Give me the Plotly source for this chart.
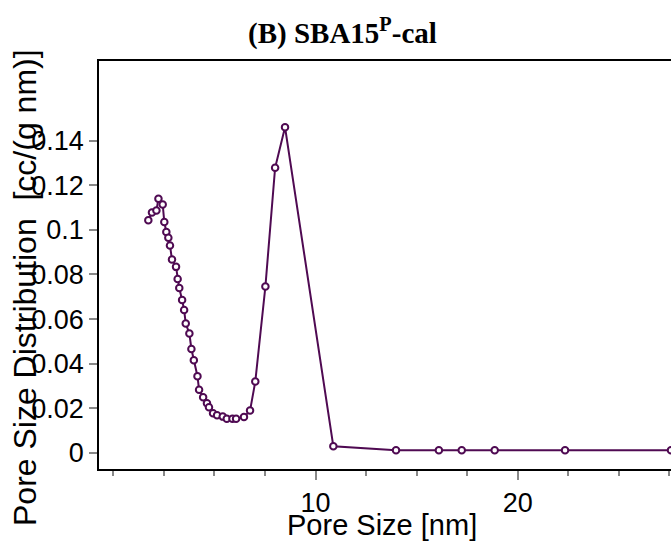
import plotly.graph_objects as go

# Pore size distribution (BJH) of calcined SBA15^P
pore_size_nm = [1.73, 1.91, 2.13, 2.23, 2.44, 2.52, 2.62, 2.72, 2.80, 2.90,
                3.10, 3.18, 3.26, 3.40, 3.50, 3.58, 3.76, 3.86, 3.98, 4.16,
                4.24, 4.44, 4.63, 4.73, 4.93, 5.13, 5.41, 5.61, 5.89, 6.07,
                6.46, 6.76, 7.02, 7.52, 8.00, 8.49, 10.88, 13.98, 16.10, 17.23,
                18.86, 22.34, 27.58]
psd = [0.1043, 0.1078, 0.1087, 0.1139, 0.1114, 0.1035, 0.0990, 0.0964, 0.0930, 0.0867,
       0.0834, 0.0780, 0.0739, 0.0686, 0.0641, 0.0580, 0.0535, 0.0466, 0.0416, 0.0344,
       0.0283, 0.0250, 0.0223, 0.0205, 0.0178, 0.0169, 0.0163, 0.0153, 0.0153, 0.0153,
       0.0161, 0.0190, 0.0320, 0.0746, 0.1278, 0.1460, 0.0030, 0.0012, 0.0012, 0.0012,
       0.0012, 0.0012, 0.0012]

y_ticks = [0, 0.02, 0.04, 0.06, 0.08, 0.1, 0.12, 0.14]
y_tick_text = ["0", "0.02", "0.04", "0.06", "0.08", "0.1", "0.12", "0.14"]
x_ticks = [10, 20]

PURPLE = "#4F0A52"
SANS = "Liberation Sans, Arial, sans-serif"
SERIF = "Liberation Serif, Times New Roman, serif"

fig = go.Figure()
fig.add_trace(go.Scatter(
    x=pore_size_nm, y=psd, mode="lines+markers",
    line=dict(color=PURPLE, width=2),
    marker=dict(symbol="circle", size=6.5, color="white",
                line=dict(color=PURPLE, width=2)),
    showlegend=False,
))

fig.update_layout(
    width=671, height=544,
    margin=dict(l=99, r=0, t=61, b=75),
    paper_bgcolor="white", plot_bgcolor="white",
    font=dict(family=SANS, color="black"),
)

fig.update_xaxes(
    range=[-0.71, 27.58],
    tickvals=x_ticks, ticks="outside", ticklen=9, tickcolor="#888888", tickwidth=1.5,
    tickfont=dict(size=27, family=SANS),
    minor=dict(dtick=2.5, tick0=0, ticks="outside", ticklen=5,
               tickcolor="#888888", tickwidth=1.5, showgrid=False),
    showgrid=False, zeroline=False,
    showline=True, linecolor="black", linewidth=1.5, mirror=True,
)
fig.update_yaxes(
    range=[-0.00717, 0.17565],
    tickvals=y_ticks, ticktext=y_tick_text,
    ticks="outside", ticklen=8, tickcolor="#888888", tickwidth=1.5,
    tickfont=dict(size=27, family=SANS),
    showgrid=False, zeroline=False,
    showline=True, linecolor="black", linewidth=1.5, mirror=False,
)

# Chart title and axis titles
fig.add_annotation(
    text="<b>(B) SBA15<sup>P</sup>-cal</b>",
    xref="paper", yref="paper", x=(342 - 99) / 572, y=1 + (61 - 31) / 408,
    xanchor="center", yanchor="middle", showarrow=False,
    font=dict(family=SERIF, size=29, color="black"),
)
fig.add_annotation(
    text="Pore Size [nm]",
    xref="paper", yref="paper", x=(381.5 - 99) / 572, y=-(525 - 469) / 408,
    xanchor="center", yanchor="middle", showarrow=False,
    font=dict(family=SANS, size=29, color="black"),
)
fig.add_annotation(
    text="Pore Size Distribution  [cc/(g nm)]",
    xref="paper", yref="paper", x=(25 - 99) / 572, y=(469 - 288) / 408,
    xanchor="center", yanchor="middle", textangle=-90, showarrow=False,
    font=dict(family=SANS, size=32, color="black"),
)

fig.write_html("out.html")
